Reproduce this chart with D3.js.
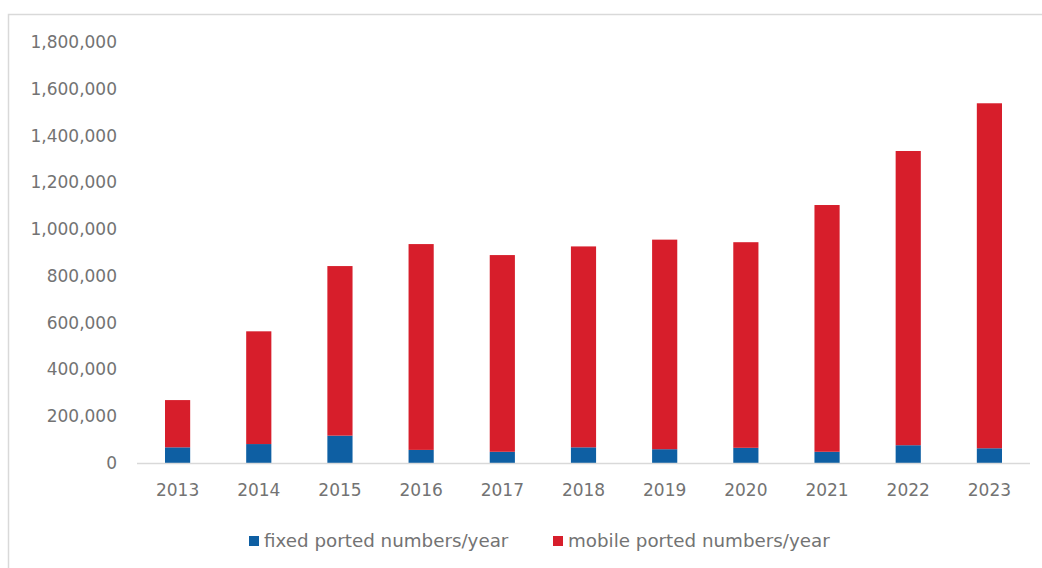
<!DOCTYPE html>
<html lang="en">
<head>
<meta charset="UTF-8">
<title>Ported numbers per year</title>
<script src="https://d3js.org/d3.v7.min.js"></script>
<style>
  body { margin: 0; background: #fff; }
  text { font-family: "DejaVu Sans", Verdana, sans-serif; fill: #737373; }
</style>
</head>
<body>
<div id="chart"></div>
<script>
// data
var years = ["2013","2014","2015","2016","2017","2018","2019","2020","2021","2022","2023"];
var fixedPorted  = [67000, 81000, 117000, 56000, 48000, 67000, 59000, 65000, 48000, 76000, 63000];
var mobilePorted = [202000, 482000, 725000, 880000, 841000, 859000, 896000, 879000, 1055000, 1258000, 1475000];
var yTicks = [0, 200000, 400000, 600000, 800000, 1000000, 1200000, 1400000, 1600000, 1800000];
var seriesNames = ["fixed ported numbers/year", "mobile ported numbers/year"];
var seriesColors = ["#0e5fa3", "#d71e2b"];

var W = 1042, H = 568;
var margin = {top: 42, right: 12, bottom: 105, left: 137};
var width = 1030 - margin.left, height = 463 - margin.top;

var svg = d3.select("#chart").append("svg")
    .attr("width", W).attr("height", H);

// outer frame (only top and left edges visible)
svg.append("path")
    .attr("d", "M8.5,568 V14.5 H1042")
    .attr("fill", "none").attr("stroke", "#d9d9d9").attr("stroke-width", 1.5);

var g = svg.append("g").attr("transform", "translate(" + margin.left + "," + margin.top + ")");

var x = d3.scaleBand().domain(years).range([0, width]).paddingInner(0.69).paddingOuter(0.345);
var y = d3.scaleLinear().domain([0, 1800000]).range([height, 0]);

var rows = years.map(function(yr, i) { return {year: yr, fixed: fixedPorted[i], mobile: mobilePorted[i]}; });
var stack = d3.stack().keys(["fixed", "mobile"])(rows);

g.selectAll("g.layer").data(stack).enter().append("g")
    .attr("class", "layer")
    .attr("fill", function(d, i) { return seriesColors[i]; })
  .selectAll("rect").data(function(d) { return d; }).enter().append("rect")
    .attr("x", function(d) { return x(d.data.year); })
    .attr("y", function(d) { return y(d[1]); })
    .attr("width", x.bandwidth())
    .attr("height", function(d) { return y(d[0]) - y(d[1]); });

// y axis labels
var yAxis = g.append("g")
    .call(d3.axisLeft(y).tickValues(yTicks).tickSize(0).tickPadding(20).tickFormat(d3.format(",")));
yAxis.select(".domain").remove();
yAxis.selectAll("text").style("font-size", "17px").attr("fill", "#737373");

// baseline
g.append("line")
    .attr("x1", 0).attr("x2", width)
    .attr("y1", y(0) + 0.5).attr("y2", y(0) + 0.5)
    .attr("stroke", "#d9d9d9").attr("stroke-width", 1.5);

// x axis labels
var xAxis = g.append("g").attr("transform", "translate(0," + height + ")")
    .call(d3.axisBottom(x).tickSize(0).tickPadding(21));
xAxis.select(".domain").remove();
xAxis.selectAll("text").style("font-size", "17px").attr("fill", "#737373");

// legend
var legendX = [249, 553];
var legend = svg.selectAll("g.legend").data(seriesNames).enter().append("g")
    .attr("class", "legend")
    .attr("transform", function(d, i) { return "translate(" + legendX[i] + ",541)"; });
legend.append("rect")
    .attr("x", 0).attr("y", -5).attr("width", 10).attr("height", 10)
    .attr("fill", function(d, i) { return seriesColors[i]; });
legend.append("text")
    .attr("x", 15).attr("dy", "0.35em")
    .style("font-size", "18.3px")
    .text(function(d) { return d; });
</script>
</body>
</html>
